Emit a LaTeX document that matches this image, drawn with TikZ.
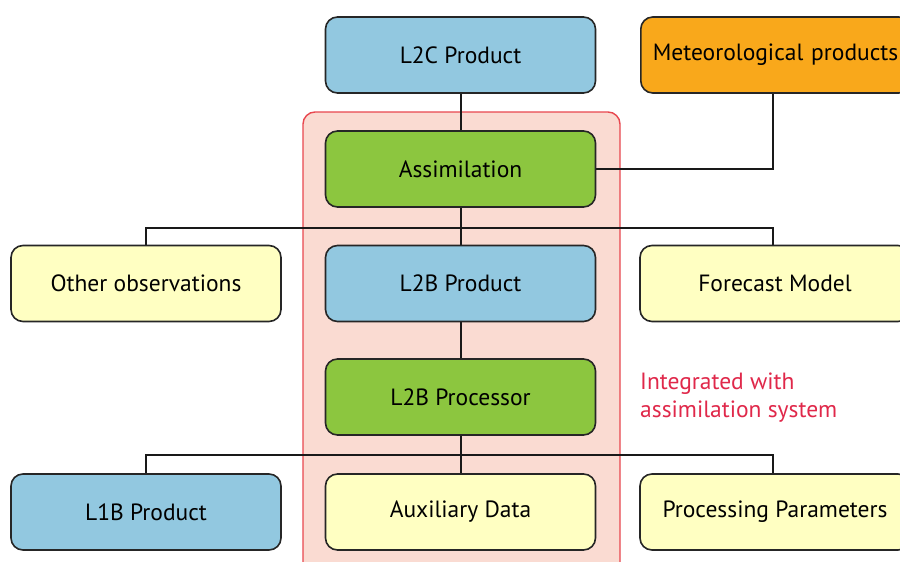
\documentclass[tikz,border=0pt]{standalone}
\usepackage{fontspec}
\setmainfont{PT Sans}
\usetikzlibrary{backgrounds}
\begin{document}
\begin{tikzpicture}[x=1pt,y=-1pt,
  box/.style={draw=black!85,line width=1.6pt,rounded corners=12pt,minimum width=270pt,minimum height=76pt,inner sep=0pt,font=\fontsize{23.5}{28}\selectfont,text=black},
  blu/.style={box,fill=bluefill},
  grn/.style={box,fill=greenfill},
  yel/.style={box,fill=yellowfill},
  org/.style={box,fill=orangefill},
  conn/.style={draw=black!90,line width=2pt}]
\definecolor{bluefill}{HTML}{92C8E0}
\definecolor{greenfill}{HTML}{8CC63F}
\definecolor{yellowfill}{HTML}{FFFFC2}
\definecolor{orangefill}{HTML}{F9A81B}
\definecolor{pinkfill}{HTML}{FADBD2}
\definecolor{redline}{HTML}{E8474F}
\definecolor{redtext}{HTML}{E0284A}
\useasboundingbox (0,0) rectangle (900,562);
\clip (0,0) rectangle (900,562);
% nodes
\node[blu] (l2c) at (460.5,55) {L2C Product};
\node[org,anchor=west,text width=258pt,align=left] (met) at (640,55) {\hspace*{6pt}Meteorological products};
\node[grn] (assim) at (460.5,169) {Assimilation};
\node[yel] (other) at (146,283.5) {Other observations};
\node[blu] (l2b) at (460.5,283.5) {L2B Product};
\node[yel] (fore) at (775,283.5) {Forecast Model};
\node[grn] (proc) at (460.5,397) {L2B Processor};
\node[blu] (l1b) at (146,512) {L1B Product};
\node[yel] (aux) at (460.5,512) {Auxiliary Data};
\node[yel] (par) at (775,512) {Processing Parameters};
\node[anchor=north west,align=left,inner sep=0pt,text=redtext,font=\fontsize{23.5}{28}\selectfont] (integ) at (640,373) {Integrated with\\assimilation system};
\coordinate (bus1) at (460.5,228);
\coordinate (bus2) at (460.5,455);
\coordinate (metdrop) at (773,93);
\coordinate (forein) at (773,245.5);
\coordinate (parin) at (773,474);
\begin{scope}[on background layer]
\fill[white] (0,0) rectangle (900,562);
\draw[fill=pinkfill,draw=redline,line width=1.4pt,rounded corners=12pt] (303,600) -- (303,112) -- (620,112) -- (620,600);
\draw[conn] (l2c) -- (assim);
\draw[conn] (metdrop) |- (assim.east);
\draw[conn] (assim) -- (l2b);
\draw[conn] (l2b) -- (proc);
\draw[conn] (proc) -- (aux);
\draw[conn] (other.north) |- (bus1) -| (forein);
\draw[conn] (l1b.north) |- (bus2) -| (parin);
\end{scope}
\end{tikzpicture}
\end{document}
